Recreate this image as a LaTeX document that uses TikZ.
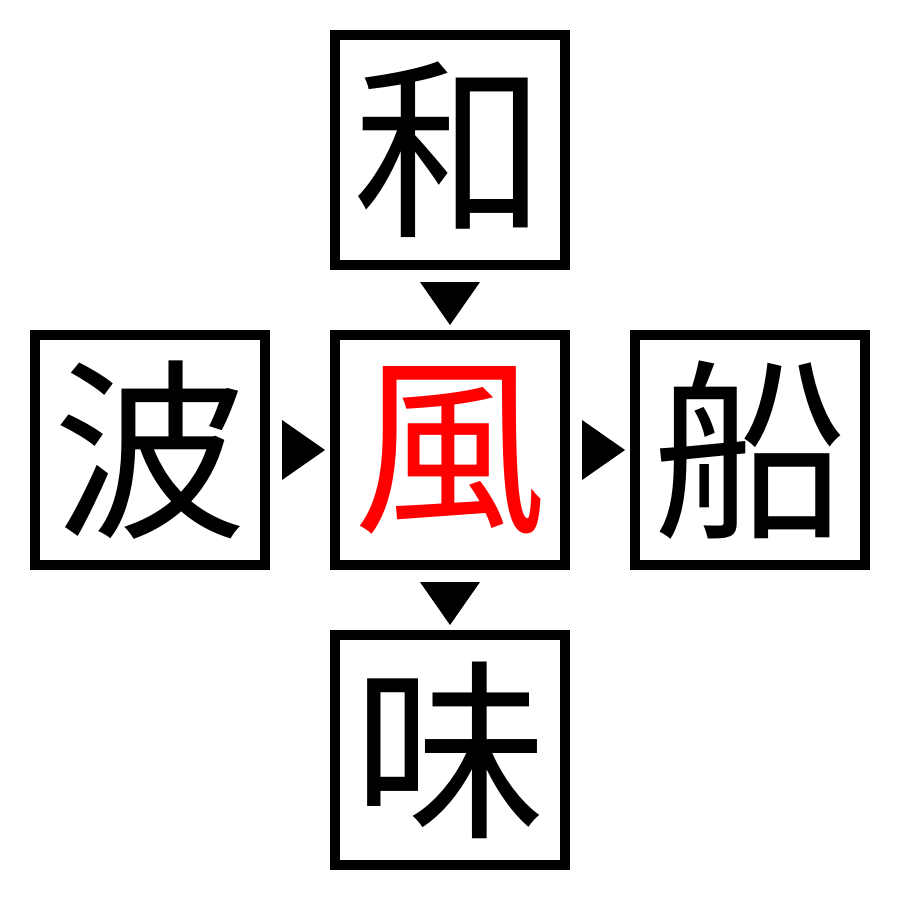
\documentclass[tikz,border=0pt]{standalone}
\usepackage{fontspec}
\newfontfamily\cjk{Noto Sans CJK JP}
\definecolor{kred}{HTML}{FF0000}
\tikzset{
  kbox/.style={draw=black, line width=0.1cm, minimum size=2.3cm, inner sep=0pt, outer sep=0pt, font=\cjk\fontsize{55}{55}\selectfont},
  tri/.style={fill=black}
}
\begin{document}
\begin{tikzpicture}[x=0.01cm,y=-0.01cm]
\useasboundingbox (0,0) rectangle (900,900);
\node[kbox] (top) at (450,150) {和};
\node[kbox] (left) at (150,450) {波};
\node[kbox, text=kred] (mid) at (450,450) {風};
\node[kbox] (right) at (750,450) {船};
\node[kbox] (bot) at (450,750) {味};
% arrowheads
\fill[tri] (420,282) -- (480,282) -- (450,325) -- cycle;
\fill[tri] (282,420) -- (282,480) -- (325,450) -- cycle;
\fill[tri] (582,420) -- (582,480) -- (625,450) -- cycle;
\fill[tri] (420,582) -- (480,582) -- (450,625) -- cycle;
\end{tikzpicture}
\end{document}
